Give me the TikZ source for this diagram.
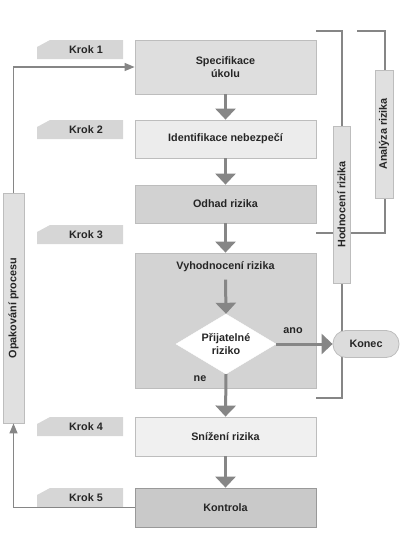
\documentclass[tikz,border=0pt]{standalone}
\usepackage{fontspec}
\setmainfont{Liberation Sans}
\usetikzlibrary{arrows.meta,shapes.geometric,calc}
\definecolor{lnc}{HTML}{868686}
\definecolor{bdc}{HTML}{BDBDBD}
\definecolor{cSpec}{HTML}{DEDEDE}
\definecolor{cIdent}{HTML}{ECECEC}
\definecolor{cOdhad}{HTML}{D2D2D2}
\definecolor{cVyh}{HTML}{D3D3D3}
\definecolor{cSniz}{HTML}{F0F0F0}
\definecolor{cKontr}{HTML}{C9C9C9}
\definecolor{cKrok}{HTML}{D6D6D6}
\definecolor{cBar}{HTML}{E0E0E0}
\definecolor{cKonec}{HTML}{DCDCDC}
\tikzset{
  txt/.style={font=\fontsize{10.8}{13}\selectfont\bfseries, text=black!85},
  mainbox/.style={txt, draw=bdc, line width=0.8pt, minimum width=181pt, align=center, inner sep=0pt},
  kroktext/.style={txt, inner sep=0pt},
  kfill/.style={fill=cKrok},
  bigarrow/.style={draw=lnc, line width=3pt, -{Triangle[width=20pt,length=11pt]}},
  thinline/.style={draw=lnc, line width=1.3pt},
  thinarrow/.style={thinline, -{Triangle[width=8pt,length=10pt]}},
  bar/.style={draw=bdc, line width=0.8pt, fill=cBar, inner sep=0pt},
  bartext/.style={txt, rotate=90, inner sep=0pt},
}
\newcommand\krokTag[3]{%
  \path[kfill] (37,#2+19) -- (37,#2+7) -- (50,#2) -- (123,#2) -- (123,#2+19) -- cycle;
  \node[kroktext] (#1) at (86,#2+9.5) {#3};}
\begin{document}
\begin{tikzpicture}[x=1pt,y=-1pt]
\useasboundingbox (0,0) rectangle (403,560);
% right brackets
\coordinate (hA) at (316,31);
\coordinate (hB) at (342,31);
\coordinate (hC) at (342,398);
\coordinate (hD) at (316,398);
\coordinate (aA) at (357,31);
\coordinate (aB) at (385,31);
\coordinate (aC) at (385,233);
\coordinate (aD) at (316,233);
\draw[thinline] (hA) -- (hB) -- (hC) -- (hD);
\draw[thinline] (aA) -- (aB) -- (aC) -- (aD);
% bars
\node[bar, minimum width=17pt, minimum height=157pt] (hod) at (341.5,204.5) {};
\node[bartext] (hodt) at (hod.center) {Hodnocení rizika};
\node[bar, minimum width=18pt, minimum height=128pt] (ana) at (384,134) {};
\node[bartext] (anat) at (ana.center) {Analýza rizika};
\node[bar, minimum width=21pt, minimum height=230pt] (opa) at (13.5,308) {};
\node[bartext] (opat) at (opa.center) {Opakování procesu};
% main boxes
\node[mainbox, fill=cSpec, minimum height=54pt] (spec) at (225.5,67) {Specifikace\\úkolu};
\node[mainbox, fill=cIdent, minimum height=38pt] (ident) at (225.5,139) {Identifikace nebezpečí};
\node[mainbox, fill=cOdhad, minimum height=38pt] (odhad) at (225.5,204) {Odhad rizika};
\node[mainbox, fill=cVyh, minimum height=135pt] (vyh) at (225.5,320.5) {};
\node[txt] (vyht) at (225.5,267) {Vyhodnocení rizika};
\node[diamond, fill=white, draw=white, minimum width=100pt, minimum height=60pt, aspect=1.667, inner sep=0pt, txt, align=center] (dec) at (226,344) {Přijatelné\\riziko};
\node[mainbox, fill=cSniz, minimum height=39pt] (sniz) at (225.5,436.5) {Snížení rizika};
\node[mainbox, fill=cKontr, draw=black!40, minimum height=39pt] (kontr) at (225.5,507.5) {Kontrola};
\node[txt, draw=bdc, line width=0.8pt, fill=cKonec, rounded corners=13pt, minimum width=66pt, minimum height=27pt, inner sep=0pt] (konec) at (366,344) {Konec};
\node[txt] (ano) at (293,331) {ano};
\node[txt] (ne) at (200,379) {ne};
% krok tags
\krokTag{k1}{40}{Krok 1}
\krokTag{k2}{120}{Krok 2}
\krokTag{k3}{225}{Krok 3}
\krokTag{k4}{417}{Krok 4}
\krokTag{k5}{488}{Krok 5}
% big arrows
\draw[bigarrow] (spec.south) -- (ident.north);
\draw[bigarrow] (ident.south) -- (odhad.north);
\draw[bigarrow] (odhad.south) -- (vyh.north);
\draw[bigarrow] ($(vyht.south)+(0,4)$) -- (dec.north);
\draw[bigarrow] (dec.south) -- (sniz.north);
\draw[bigarrow] (sniz.south) -- (kontr.north);
\draw[bigarrow] (dec.east) -- (konec.west);
% feedback loop
\draw[thinarrow] (kontr.west) -| (opa.south);
\draw[thinarrow] (opa.north) |- (spec.west);
\end{tikzpicture}
\end{document}
